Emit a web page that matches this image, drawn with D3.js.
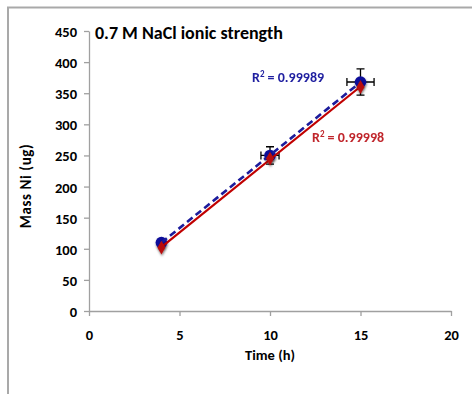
<!DOCTYPE html>
<html>
<head>
<meta charset="utf-8">
<script src="https://cdn.jsdelivr.net/npm/d3@7"></script>
<style>
  html, body { margin: 0; padding: 0; background: #fff; }
  svg { display: block; font-family: Carlito, Lato, "Open Sans", sans-serif; }
</style>
</head>
<body>
<svg id="chart" width="472" height="394"></svg>
<script>
// Sampling times (h) and measured Ni mass (ug) for the two runs
const times = [4, 10, 15];
const massBlue = [110, 250, 368];
const massRed = [102, 245, 360];
// Uncertainty on the blue run (time in h, mass in ug)
const errTime = [0.15, 0.5, 0.75];
const errMass = [5, 14, 21];

const xTicks = [0, 5, 10, 15, 20];
const yTicks = [0, 50, 100, 150, 200, 250, 300, 350, 400, 450];

const titleText = "0.7 M NaCl ionic strength";
const xTitle = "Time (h)";
const yTitle = "Mass Ni (ug)";
const r2Blue = "0.99989";
const r2Red = "0.99998";

const svg = d3.select("#chart");

const x = d3.scaleLinear().domain([0, 20]).range([89, 451]);
const y = d3.scaleLinear().domain([0, 450]).range([311, 31]);

// soft shadow under markers
const defs = svg.append("defs");
const f = defs.append("filter").attr("id", "shadow")
  .attr("x", "-60%").attr("y", "-60%").attr("width", "220%").attr("height", "220%");
f.append("feDropShadow").attr("dx", 0.5).attr("dy", 1.5)
  .attr("stdDeviation", 1.3).attr("flood-color", "#000").attr("flood-opacity", 0.55);

// chart frame (top and left edges)
svg.append("path")
  .attr("d", "M8,394 L8,7.5 L472,7.5")
  .attr("fill", "none").attr("stroke", "#a9a9a9").attr("stroke-width", 2);

const axisColor = "#a0a0a0";
const fontStack = "Carlito, Lato, 'Open Sans', sans-serif";

// y axis
const yAxis = svg.append("g").attr("transform", `translate(${x(0)},0)`)
  .call(d3.axisLeft(y).tickValues(yTicks).tickSize(5).tickSizeOuter(0).tickFormat(d3.format("d")));
yAxis.select(".domain").attr("stroke", axisColor).attr("stroke-width", 1.3);
yAxis.selectAll(".tick line").attr("stroke", axisColor).attr("stroke-width", 1.3);
yAxis.selectAll(".tick text")
  .attr("x", -12).attr("dy", "0.38em")
  .attr("fill", "#000").style("font-size", "14.5px").style("font-weight", "bold")
  .style("font-family", fontStack);

// x axis
const xAxis = svg.append("g").attr("transform", `translate(0,${y(0)})`)
  .call(d3.axisBottom(x).tickValues(xTicks).tickSize(5).tickSizeOuter(0).tickFormat(d3.format("d")));
xAxis.select(".domain").attr("stroke", axisColor).attr("stroke-width", 1.3);
xAxis.selectAll(".tick line").attr("stroke", axisColor).attr("stroke-width", 1.3);
xAxis.selectAll(".tick text")
  .attr("y", 24).attr("dy", "0.36em")
  .attr("fill", "#000").style("font-size", "14.5px").style("font-weight", "bold")
  .style("font-family", fontStack);

// titles
svg.append("text").attr("x", 95).attr("y", 38.5)
  .style("font-size", "18px").style("font-weight", "bold").attr("fill", "#000")
  .text(titleText);

svg.append("text").attr("x", 270).attr("y", 360).attr("text-anchor", "middle")
  .style("font-size", "14.5px").style("font-weight", "bold").attr("fill", "#000")
  .text(xTitle);

svg.append("text").attr("transform", "translate(31,186) rotate(-90)").attr("text-anchor", "middle")
  .style("font-size", "15px").style("font-weight", "bold").attr("fill", "#000")
  .style("letter-spacing", "0.6px")
  .text(yTitle);

// least-squares line over the sampled range
function fit(xs, ys) {
  const mx = d3.mean(xs), my = d3.mean(ys);
  const sxy = d3.sum(xs, (v, i) => (v - mx) * (ys[i] - my));
  const sxx = d3.sum(xs, v => (v - mx) * (v - mx));
  const b = sxy / sxx, a = my - b * mx;
  const x0 = d3.min(xs), x1 = d3.max(xs);
  return [[x0, a + b * x0], [x1, a + b * x1]];
}

const line = d3.line().x(d => x(d[0])).y(d => y(d[1]));

const blue = "#1c1c9c";
const red = "#c00000";

// error bars (blue run)
const eb = svg.append("g").attr("stroke", "#000").attr("stroke-width", 1.3).attr("fill", "none");
times.forEach((t, i) => {
  const cx = x(t), cy = y(massBlue[i]);
  const y0 = y(massBlue[i] - errMass[i]), y1 = y(massBlue[i] + errMass[i]);
  const x0 = x(t - errTime[i]), x1 = x(t + errTime[i]);
  const cap = 4;
  eb.append("path").attr("d",
    `M${cx},${y0}L${cx},${y1}M${cx - cap},${y0}L${cx + cap},${y0}M${cx - cap},${y1}L${cx + cap},${y1}` +
    `M${x0},${cy}L${x1},${cy}M${x0},${cy - cap}L${x0},${cy + cap}M${x1},${cy - cap}L${x1},${cy + cap}`);
});

// blue markers
svg.append("g").attr("filter", "url(#shadow)").selectAll("circle")
  .data(times.map((t, i) => [t, massBlue[i]]))
  .join("circle")
  .attr("cx", d => x(d[0])).attr("cy", d => y(d[1])).attr("r", 5.8)
  .attr("fill", "#10109a");

// trend lines
svg.append("path").attr("d", line(fit(times, massBlue)))
  .attr("fill", "none").attr("stroke", blue).attr("stroke-width", 2.6)
  .attr("stroke-dasharray", "7,4");

svg.append("path").attr("d", line(fit(times, massRed)))
  .attr("fill", "none").attr("stroke", red).attr("stroke-width", 2.2);

// red markers
const diamond = d3.symbol().type(d3.symbolDiamond).size(55);
svg.append("g").attr("filter", "url(#shadow)").selectAll("path")
  .data(times.map((t, i) => [t, massRed[i]]))
  .join("path")
  .attr("transform", d => `translate(${x(d[0])},${y(d[1])})`)
  .attr("d", diamond)
  .attr("fill", "#b80c0c");

// R² labels
function r2Label(px, py, value, color) {
  const t = svg.append("text").attr("x", px).attr("y", py)
    .style("font-size", "14px").style("font-weight", "bold").attr("fill", color);
  t.append("tspan").text("R");
  t.append("tspan").attr("dy", -5).style("font-size", "9px").text("2");
  t.append("tspan").attr("dy", 5).text(" = " + value);
}
r2Label(252, 82, r2Blue, "#1f1fa0");
r2Label(312, 142, r2Red, "#c0262c");
</script>
</body>
</html>
